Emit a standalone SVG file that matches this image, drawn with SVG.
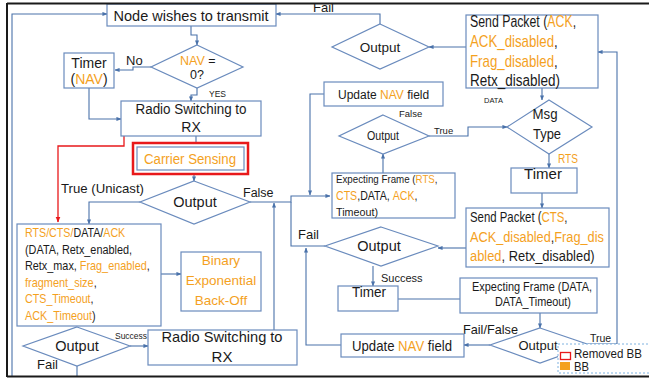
<svg xmlns="http://www.w3.org/2000/svg" width="649" height="379" viewBox="0 0 649 379">
<defs>
<style>
text{font-family:"Liberation Sans",Arial,sans-serif;fill:#1a1a1a}
.o{fill:#f4a11e}
.c{text-anchor:middle}
.b{fill:#fff;stroke:#6a8bbd;stroke-width:1.2}
.e{fill:none;stroke:#4a72aa;stroke-width:1.1}
</style>
<marker id="a" viewBox="0 0 6 6" refX="5.5" refY="3" markerWidth="5" markerHeight="5" orient="auto" markerUnits="userSpaceOnUse"><path d="M0,0.5 L6,3 L0,5.5 z" fill="#4a72aa"/></marker>
<marker id="r" viewBox="0 0 6 6" refX="5.5" refY="3" markerWidth="6" markerHeight="6" orient="auto" markerUnits="userSpaceOnUse"><path d="M0,0.5 L6,3 L0,5.5 z" fill="#e8191b"/></marker>
</defs>
<rect width="649" height="379" fill="#fff"/>

<g id="connectors">
<path class="e" d="M12,377 V14 H107" marker-end="url(#a)"/>
<path class="e" d="M191,26 V35 H197 V45" marker-end="url(#a)"/>
<path class="e" d="M151,67 H133 V70 H115" marker-end="url(#a)"/>
<path class="e" d="M197,88 V95 H191 V101" marker-end="url(#a)"/>
<path class="e" d="M89,88 V119 H121" marker-end="url(#a)"/>
<path class="e" d="M196,136 V147" marker-end="url(#a)"/>
<path class="e" d="M194,170 V181" marker-end="url(#a)"/>
<path d="M124,136 V146 H58 V222" fill="none" stroke="#e8191b" stroke-width="1.3" marker-end="url(#r)"/>
<path class="e" d="M140,202 H89 V224" marker-end="url(#a)"/>
<path class="e" d="M250,202 H291 V196 H330" marker-end="url(#a)"/>
<path class="e" d="M325,246 H291 V202"/>
<path class="e" d="M324,94 H310 V195" marker-end="url(#a)"/>
<path class="e" d="M274,330 V203" marker-end="url(#a)"/>
<path class="e" d="M341,345 H306 V248" marker-end="url(#a)"/>
<path class="e" d="M161,274 H181" marker-end="url(#a)"/>
<path class="e" d="M130,346 H148" marker-end="url(#a)"/>
<path class="e" d="M77,366 V377"/>
<path class="e" d="M380,24 V14 H276" marker-end="url(#a)"/>
<path class="e" d="M466,47 H429" marker-end="url(#a)"/>
<path class="e" d="M542,88 V100" marker-end="url(#a)"/>
<path class="e" d="M429,136 H468 V127 H507" marker-end="url(#a)"/>
<path class="e" d="M383,173 V154" marker-end="url(#a)"/>
<path class="e" d="M549,154 V168" marker-end="url(#a)"/>
<path class="e" d="M542,193 V208" marker-end="url(#a)"/>
<path class="e" d="M466,248 H438" marker-end="url(#a)"/>
<path class="e" d="M373,266 V286" marker-end="url(#a)"/>
<path class="e" d="M398,299 H470" marker-end="url(#a)"/>
<path class="e" d="M540,313 V328" marker-end="url(#a)"/>
<path class="e" d="M490,345 H464" marker-end="url(#a)"/>
<path class="e" d="M588,344 H617 V52 H598" marker-end="url(#a)"/>
</g>

<g id="node-wishes">
<rect class="b" x="107" y="4" width="169" height="22"/>
<text class="c" x="191" y="21" font-size="15" textLength="155" lengthAdjust="spacingAndGlyphs">Node wishes to transmit</text>
</g>
<g id="nav-check">
<polygon class="b" points="197,45 243,67 197,88 151,67"/>
<text x="180" y="65" font-size="12.5"><tspan class="o">NAV</tspan> =</text>
<text class="c" x="197" y="79" font-size="12.5">0?</text>
</g>
<text x="126" y="65" font-size="13">No</text>
<text x="209" y="97" font-size="8.5">YES</text>
<g id="timer-nav">
<rect class="b" x="64" y="53" width="50" height="35"/>
<text class="c" x="89" y="68" font-size="14">Timer</text>
<text class="c" x="89" y="84" font-size="14">(<tspan class="o">NAV</tspan>)</text>
</g>
<g id="radio-rx-1">
<rect class="b" x="121" y="101" width="140" height="35"/>
<text class="c" x="191" y="114" font-size="14" textLength="111" lengthAdjust="spacingAndGlyphs">Radio Switching to</text>
<text class="c" x="191" y="132" font-size="14">RX</text>
</g>
<g id="carrier-sensing">
<rect x="133" y="143" width="115" height="31" fill="#fff" stroke="#e8191b" stroke-width="2.5"/>
<rect class="b" x="137" y="147" width="107" height="23"/>
<text class="c o" x="190" y="164" font-size="14" textLength="92" lengthAdjust="spacingAndGlyphs">Carrier Sensing</text>
</g>
<g id="output-cs">
<polygon class="b" points="194,181 250,202 194,224 140,202"/>
<text class="c" x="195" y="207" font-size="14.5">Output</text>
</g>
<text x="61" y="193" font-size="13" textLength="83" lengthAdjust="spacingAndGlyphs">True (Unicast)</text>
<text x="243" y="197" font-size="12.5">False</text>
<g id="frame-params">
<rect class="b" x="17" y="224" width="144" height="102"/>
<text transform="matrix(0.855,0,0,1,25,237)" font-size="12.5"><tspan class="o">RTS/CTS/</tspan>DATA/<tspan class="o">ACK</tspan></text>
<text x="25" y="253.5" font-size="12.5" textLength="107" lengthAdjust="spacingAndGlyphs">(DATA, Retx_enabled,</text>
<text transform="matrix(0.869,0,0,1,25,270)" font-size="12.5">Retx_max, <tspan class="o">Frag_enabled</tspan>,</text>
<text transform="matrix(0.875,0,0,1,25,286.5)" font-size="12.5"><tspan class="o">fragment_size</tspan>,</text>
<text transform="matrix(0.856,0,0,1,25,303)" font-size="12.5"><tspan class="o">CTS_Timeout</tspan>,</text>
<text transform="matrix(0.866,0,0,1,25,319.5)" font-size="12.5"><tspan class="o">ACK_Timeout</tspan>)</text>
</g>
<g id="backoff">
<rect class="b" x="181" y="252" width="80" height="59"/>
<text class="c o" x="221" y="265" font-size="13.5">Binary</text>
<text class="c o" x="221" y="285" font-size="13.5">Exponential</text>
<text class="c o" x="221" y="305" font-size="13.5">Back-Off</text>
</g>
<g id="output-send">
<polygon class="b" points="77,327 130,346 77,366 23,346"/>
<text class="c" x="77" y="351" font-size="14.5">Output</text>
</g>
<text x="115" y="339" font-size="9.5" textLength="32" lengthAdjust="spacingAndGlyphs">Success</text>
<text x="37" y="369" font-size="13">Fail</text>
<g id="radio-rx-2">
<rect class="b" x="148" y="330" width="149" height="35"/>
<text class="c" x="222" y="342" font-size="15" textLength="121" lengthAdjust="spacingAndGlyphs">Radio Switching to</text>
<text class="c" x="222" y="362" font-size="15">RX</text>
</g>

<text x="313" y="12" font-size="13">Fail</text>
<g id="output-ack">
<polygon class="b" points="380,24 429,47 380,69 332,47"/>
<text class="c" x="380" y="52" font-size="13.5">Output</text>
</g>
<g id="send-ack">
<rect class="b" x="466" y="15" width="132" height="73"/>
<text transform="matrix(0.77,0,0,1,470,27)" font-size="16">Send Packet (<tspan class="o">ACK</tspan>,</text>
<text transform="matrix(0.83,0,0,1,470,47)" font-size="16"><tspan class="o">ACK_disabled</tspan>,</text>
<text transform="matrix(0.83,0,0,1,470,67)" font-size="16"><tspan class="o">Frag_disabled</tspan>,</text>
<text x="470" y="86" font-size="16" textLength="90" lengthAdjust="spacingAndGlyphs">Retx_disabled)</text>
</g>
<text x="484" y="103" font-size="7.5">DATA</text>
<g id="update-nav-1">
<rect class="b" x="324" y="82" width="119" height="24"/>
<text transform="matrix(0.889,0,0,1,338,98.5)" font-size="13.5">Update <tspan class="o">NAV</tspan> field</text>
</g>
<text x="399" y="117" font-size="9.5">False</text>
<text x="434" y="134" font-size="9.5">True</text>
<g id="output-frame">
<polygon class="b" points="383,115 429,136 383,154 339,136"/>
<text class="c" x="383" y="140" font-size="12" textLength="32" lengthAdjust="spacingAndGlyphs">Output</text>
</g>
<g id="msg-type">
<polygon class="b" points="549,100 592,127 549,154 507,127"/>
<text class="c" x="545" y="119" font-size="14" textLength="25" lengthAdjust="spacingAndGlyphs">Msg</text>
<text class="c" x="547" y="139" font-size="14" textLength="28" lengthAdjust="spacingAndGlyphs">Type</text>
</g>
<text x="558" y="163" font-size="12.5" class="o" textLength="20" lengthAdjust="spacingAndGlyphs">RTS</text>
<g id="timer-rts">
<rect class="b" x="511" y="168" width="66" height="25"/>
<text class="c" x="543" y="179" font-size="15">Timer</text>
</g>
<g id="expect-frame">
<rect class="b" x="332" y="173" width="123" height="45"/>
<text transform="matrix(0.887,0,0,1,336,183)" font-size="11">Expecting Frame (<tspan class="o">RTS</tspan>,</text>
<text transform="matrix(0.848,0,0,1,336,200)" font-size="12.5"><tspan class="o">CTS</tspan>,DATA, <tspan class="o">ACK</tspan>,</text>
<text x="336" y="216" font-size="11" textLength="42" lengthAdjust="spacingAndGlyphs">Timeout)</text>
</g>
<g id="send-cts">
<rect class="b" x="466" y="208" width="143" height="59"/>
<text transform="matrix(0.76,0,0,1,470,222)" font-size="15">Send Packet (<tspan class="o">CTS</tspan>,</text>
<text transform="matrix(0.85,0,0,1,470,242)" font-size="15"><tspan class="o">ACK_disabled</tspan>,<tspan class="o">Frag_dis</tspan></text>
<text transform="matrix(0.86,0,0,1,470,261)" font-size="15"><tspan class="o">abled</tspan>, Retx_disabled)</text>
</g>
<g id="output-cts">
<polygon class="b" points="381,227 438,246 381,266 325,246"/>
<text class="c" x="379" y="251" font-size="14.5">Output</text>
</g>
<text x="298" y="239" font-size="13">Fail</text>
<text x="381" y="282" font-size="11">Success</text>
<g id="timer-data">
<rect class="b" x="338" y="286" width="60" height="25"/>
<text class="c" x="369" y="297" font-size="14.5" textLength="34" lengthAdjust="spacingAndGlyphs">Timer</text>
</g>
<g id="expect-data">
<rect class="b" x="460" y="278" width="137" height="35"/>
<text class="c" x="532" y="291" font-size="12" textLength="120" lengthAdjust="spacingAndGlyphs">Expecting Frame (DATA,</text>
<text class="c" x="533" y="306" font-size="12" textLength="76" lengthAdjust="spacingAndGlyphs">DATA_Timeout)</text>
</g>
<text x="463" y="334" font-size="13" textLength="55" lengthAdjust="spacingAndGlyphs">Fail/False</text>
<g id="output-data">
<polygon class="b" points="540,328 590,345 540,363 490,345"/>
<text class="c" x="538" y="350" font-size="13.5" textLength="39" lengthAdjust="spacingAndGlyphs">Output</text>
</g>
<text x="590" y="342" font-size="10.5">True</text>
<g id="update-nav-2">
<rect class="b" x="341" y="334" width="123" height="23"/>
<text transform="matrix(0.878,0,0,1,352,351)" font-size="15">Update <tspan class="o">NAV</tspan> field</text>
</g>

<g id="legend">
<rect x="558" y="344" width="95" height="29" fill="#fff" stroke="#7fb2e0" stroke-width="1" stroke-dasharray="2,2"/>
<rect x="560.5" y="352.5" width="10" height="7" fill="none" stroke="#e8191b" stroke-width="1.3"/>
<rect x="560" y="362" width="10" height="8" fill="#f4a11e"/>
<text x="574" y="358" font-size="12.5" textLength="68" lengthAdjust="spacingAndGlyphs">Removed BB</text>
<text x="574" y="370.5" font-size="12.5" textLength="15" lengthAdjust="spacingAndGlyphs">BB</text>
</g>

<g id="frame">
<path d="M7,3.5 H649 M7,3 V377 M7,376.5 H649" fill="none" stroke="#1a1a1a" stroke-width="2"/>
</g>
</svg>
